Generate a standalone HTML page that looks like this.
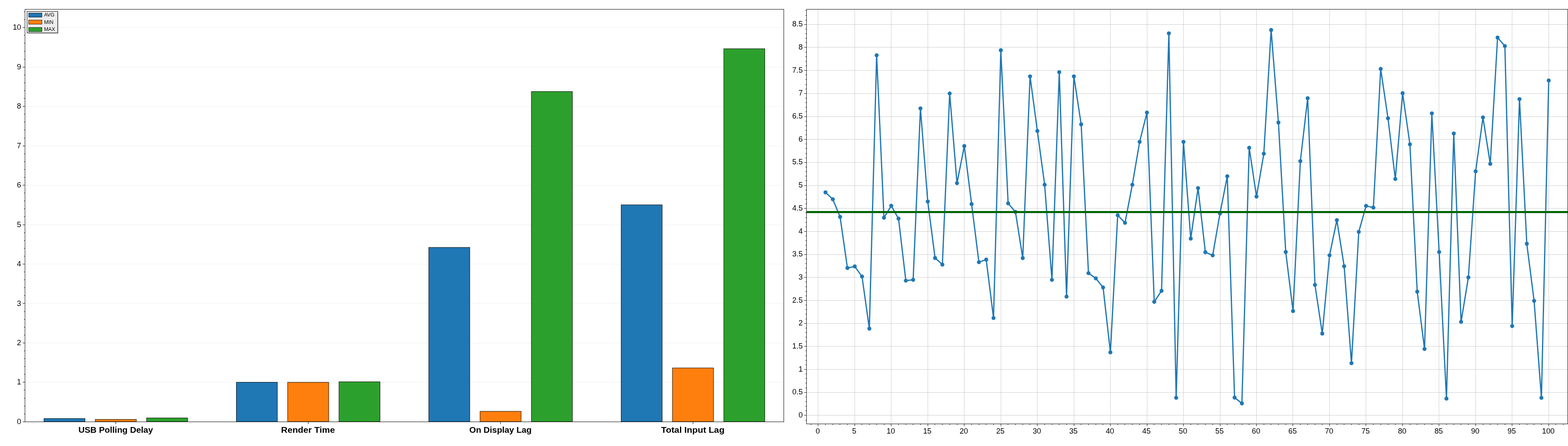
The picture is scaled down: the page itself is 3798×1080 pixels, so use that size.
<!DOCTYPE html>
<html lang="en"><head><meta charset="utf-8"><title>Input lag charts</title>
<style>
html,body{margin:0;padding:0;background:#fff;}
body{width:3798px;height:1080px;overflow:hidden;}
svg{display:block;}
text{font-family:"Liberation Sans",sans-serif;fill:#000;}
.tk{font-size:17.5px;}
.lb{font-size:20.5px;font-weight:bold;}
.lg{font-size:12px;}
.cr{shape-rendering:crispEdges;}
</style></head><body>
<svg width="3798" height="1080" viewBox="0 0 3798 1080">
<rect x="0" y="0" width="3798" height="1080" fill="#fff"/>
<g class="cr">
<rect x="62" y="925" width="1835" height="1" fill="#efefef"/>
<rect x="62" y="830" width="1835" height="1" fill="#efefef"/>
<rect x="62" y="734" width="1835" height="1" fill="#efefef"/>
<rect x="62" y="639" width="1835" height="1" fill="#efefef"/>
<rect x="62" y="544" width="1835" height="1" fill="#efefef"/>
<rect x="62" y="448" width="1835" height="1" fill="#efefef"/>
<rect x="62" y="353" width="1835" height="1" fill="#efefef"/>
<rect x="62" y="257" width="1835" height="1" fill="#efefef"/>
<rect x="62" y="162" width="1835" height="1" fill="#efefef"/>
<rect x="62" y="66" width="1835" height="1" fill="#efefef"/>
</g>
<g stroke="#000" stroke-width="1">
<rect x="106.45" y="1013.50" width="99.42" height="7.60" fill="#1f77b4"/>
<rect x="230.73" y="1015.65" width="99.42" height="5.45" fill="#ff7f0e"/>
<rect x="355.01" y="1012.00" width="99.42" height="9.10" fill="#2ca02c"/>
<rect x="572.49" y="925.65" width="99.42" height="95.45" fill="#1f77b4"/>
<rect x="696.77" y="925.75" width="99.42" height="95.35" fill="#ff7f0e"/>
<rect x="821.05" y="924.50" width="99.42" height="96.60" fill="#2ca02c"/>
<rect x="1038.53" y="599.10" width="99.42" height="422.00" fill="#1f77b4"/>
<rect x="1162.81" y="996.00" width="99.42" height="25.10" fill="#ff7f0e"/>
<rect x="1287.09" y="221.70" width="99.42" height="799.40" fill="#2ca02c"/>
<rect x="1504.57" y="496.00" width="99.42" height="525.10" fill="#1f77b4"/>
<rect x="1628.85" y="891.00" width="99.42" height="130.10" fill="#ff7f0e"/>
<rect x="1753.13" y="118.00" width="99.42" height="903.10" fill="#2ca02c"/>
</g>
<g class="cr">
<rect x="60" y="22" width="1839" height="1" fill="#000"/>
<rect x="60" y="1021" width="1839" height="1" fill="#000"/>
<rect x="60" y="22" width="1" height="1000" fill="#000"/>
<rect x="1898" y="22" width="1" height="1000" fill="#000"/>
<rect x="55" y="1021" width="5" height="1" fill="#000"/>
<rect x="58" y="1002" width="2" height="1" fill="#000"/>
<rect x="58" y="983" width="2" height="1" fill="#000"/>
<rect x="58" y="964" width="2" height="1" fill="#000"/>
<rect x="58" y="944" width="2" height="1" fill="#000"/>
<rect x="55" y="925" width="5" height="1" fill="#000"/>
<rect x="58" y="906" width="2" height="1" fill="#000"/>
<rect x="58" y="887" width="2" height="1" fill="#000"/>
<rect x="58" y="868" width="2" height="1" fill="#000"/>
<rect x="58" y="849" width="2" height="1" fill="#000"/>
<rect x="55" y="830" width="5" height="1" fill="#000"/>
<rect x="58" y="811" width="2" height="1" fill="#000"/>
<rect x="58" y="792" width="2" height="1" fill="#000"/>
<rect x="58" y="773" width="2" height="1" fill="#000"/>
<rect x="58" y="754" width="2" height="1" fill="#000"/>
<rect x="55" y="734" width="5" height="1" fill="#000"/>
<rect x="58" y="715" width="2" height="1" fill="#000"/>
<rect x="58" y="696" width="2" height="1" fill="#000"/>
<rect x="58" y="677" width="2" height="1" fill="#000"/>
<rect x="58" y="658" width="2" height="1" fill="#000"/>
<rect x="55" y="639" width="5" height="1" fill="#000"/>
<rect x="58" y="620" width="2" height="1" fill="#000"/>
<rect x="58" y="601" width="2" height="1" fill="#000"/>
<rect x="58" y="582" width="2" height="1" fill="#000"/>
<rect x="58" y="563" width="2" height="1" fill="#000"/>
<rect x="55" y="544" width="5" height="1" fill="#000"/>
<rect x="58" y="524" width="2" height="1" fill="#000"/>
<rect x="58" y="505" width="2" height="1" fill="#000"/>
<rect x="58" y="486" width="2" height="1" fill="#000"/>
<rect x="58" y="467" width="2" height="1" fill="#000"/>
<rect x="55" y="448" width="5" height="1" fill="#000"/>
<rect x="58" y="429" width="2" height="1" fill="#000"/>
<rect x="58" y="410" width="2" height="1" fill="#000"/>
<rect x="58" y="391" width="2" height="1" fill="#000"/>
<rect x="58" y="372" width="2" height="1" fill="#000"/>
<rect x="55" y="353" width="5" height="1" fill="#000"/>
<rect x="58" y="334" width="2" height="1" fill="#000"/>
<rect x="58" y="314" width="2" height="1" fill="#000"/>
<rect x="58" y="295" width="2" height="1" fill="#000"/>
<rect x="58" y="276" width="2" height="1" fill="#000"/>
<rect x="55" y="257" width="5" height="1" fill="#000"/>
<rect x="58" y="238" width="2" height="1" fill="#000"/>
<rect x="58" y="219" width="2" height="1" fill="#000"/>
<rect x="58" y="200" width="2" height="1" fill="#000"/>
<rect x="58" y="181" width="2" height="1" fill="#000"/>
<rect x="55" y="162" width="5" height="1" fill="#000"/>
<rect x="58" y="143" width="2" height="1" fill="#000"/>
<rect x="58" y="124" width="2" height="1" fill="#000"/>
<rect x="58" y="104" width="2" height="1" fill="#000"/>
<rect x="58" y="85" width="2" height="1" fill="#000"/>
<rect x="55" y="66" width="5" height="1" fill="#000"/>
<rect x="58" y="47" width="2" height="1" fill="#000"/>
<rect x="58" y="28" width="2" height="1" fill="#000"/>
<rect x="280" y="1021" width="1" height="6" fill="#000"/>
<rect x="746" y="1021" width="1" height="6" fill="#000"/>
<rect x="1212" y="1021" width="1" height="6" fill="#000"/>
<rect x="1678" y="1021" width="1" height="6" fill="#000"/>
</g>
<text class="tk" transform="translate(51.2 1026.9) scale(1.04 1)" text-anchor="end">0</text>
<text class="tk" transform="translate(51.2 931.45) scale(1.04 1)" text-anchor="end">1</text>
<text class="tk" transform="translate(51.2 836) scale(1.04 1)" text-anchor="end">2</text>
<text class="tk" transform="translate(51.2 740.55) scale(1.04 1)" text-anchor="end">3</text>
<text class="tk" transform="translate(51.2 645.1) scale(1.04 1)" text-anchor="end">4</text>
<text class="tk" transform="translate(51.2 549.65) scale(1.04 1)" text-anchor="end">5</text>
<text class="tk" transform="translate(51.2 454.2) scale(1.04 1)" text-anchor="end">6</text>
<text class="tk" transform="translate(51.2 358.75) scale(1.04 1)" text-anchor="end">7</text>
<text class="tk" transform="translate(51.2 263.3) scale(1.04 1)" text-anchor="end">8</text>
<text class="tk" transform="translate(51.2 167.85) scale(1.04 1)" text-anchor="end">9</text>
<text class="tk" transform="translate(51.2 72.4) scale(1.04 1)" text-anchor="end">10</text>
<text class="lb" x="280.2" y="1048.3" text-anchor="middle" textLength="180.6" lengthAdjust="spacingAndGlyphs">USB Polling Delay</text>
<text class="lb" x="746" y="1048.3" text-anchor="middle" textLength="130.3" lengthAdjust="spacingAndGlyphs">Render Time</text>
<text class="lb" x="1212.3" y="1048.3" text-anchor="middle" textLength="151" lengthAdjust="spacingAndGlyphs">On Display Lag</text>
<text class="lb" x="1678.1" y="1048.3" text-anchor="middle" textLength="153.6" lengthAdjust="spacingAndGlyphs">Total Input Lag</text>
<g class="cr">
<rect x="67" y="29" width="75" height="53" fill="#000" fill-opacity="0.2"/>
<rect x="65" y="27" width="75" height="53" fill="#ededed"/>
<rect x="65.5" y="27.5" width="74" height="52" fill="none" stroke="#000" stroke-width="1"/>
<rect x="69.5" y="31.5" width="32" height="10" fill="#1f77b4" stroke="#000" stroke-opacity="0.85" stroke-width="1"/>
<rect x="69.5" y="48.5" width="32" height="10" fill="#ff7f0e" stroke="#000" stroke-opacity="0.85" stroke-width="1"/>
<rect x="69.5" y="66.5" width="32" height="10" fill="#2ca02c" stroke="#000" stroke-opacity="0.85" stroke-width="1"/>
</g>
<text class="lg" transform="translate(106.7 40.2) scale(1.03 1)">AVG</text>
<text class="lg" transform="translate(106.7 57.7) scale(1.03 1)">MIN</text>
<text class="lg" transform="translate(106.7 75.2) scale(1.03 1)">MAX</text>
<g class="cr">
<rect x="1954" y="1005" width="1843" height="1" fill="#cccccc"/>
<rect x="1954" y="950" width="1843" height="1" fill="#cccccc"/>
<rect x="1954" y="894" width="1843" height="1" fill="#cccccc"/>
<rect x="1954" y="838" width="1843" height="1" fill="#cccccc"/>
<rect x="1954" y="783" width="1843" height="1" fill="#cccccc"/>
<rect x="1954" y="727" width="1843" height="1" fill="#cccccc"/>
<rect x="1954" y="671" width="1843" height="1" fill="#cccccc"/>
<rect x="1954" y="616" width="1843" height="1" fill="#cccccc"/>
<rect x="1954" y="560" width="1843" height="1" fill="#cccccc"/>
<rect x="1954" y="504" width="1843" height="1" fill="#cccccc"/>
<rect x="1954" y="449" width="1843" height="1" fill="#cccccc"/>
<rect x="1954" y="393" width="1843" height="1" fill="#cccccc"/>
<rect x="1954" y="337" width="1843" height="1" fill="#cccccc"/>
<rect x="1954" y="282" width="1843" height="1" fill="#cccccc"/>
<rect x="1954" y="226" width="1843" height="1" fill="#cccccc"/>
<rect x="1954" y="170" width="1843" height="1" fill="#cccccc"/>
<rect x="1954" y="114" width="1843" height="1" fill="#cccccc"/>
<rect x="1954" y="59" width="1843" height="1" fill="#cccccc"/>
<rect x="1981" y="23" width="1" height="1003" fill="#cccccc"/>
<rect x="2070" y="23" width="1" height="1003" fill="#cccccc"/>
<rect x="2158" y="23" width="1" height="1003" fill="#cccccc"/>
<rect x="2247" y="23" width="1" height="1003" fill="#cccccc"/>
<rect x="2335" y="23" width="1" height="1003" fill="#cccccc"/>
<rect x="2424" y="23" width="1" height="1003" fill="#cccccc"/>
<rect x="2512" y="23" width="1" height="1003" fill="#cccccc"/>
<rect x="2601" y="23" width="1" height="1003" fill="#cccccc"/>
<rect x="2689" y="23" width="1" height="1003" fill="#cccccc"/>
<rect x="2778" y="23" width="1" height="1003" fill="#cccccc"/>
<rect x="2866" y="23" width="1" height="1003" fill="#cccccc"/>
<rect x="2955" y="23" width="1" height="1003" fill="#cccccc"/>
<rect x="3043" y="23" width="1" height="1003" fill="#cccccc"/>
<rect x="3131" y="23" width="1" height="1003" fill="#cccccc"/>
<rect x="3220" y="23" width="1" height="1003" fill="#cccccc"/>
<rect x="3308" y="23" width="1" height="1003" fill="#cccccc"/>
<rect x="3397" y="23" width="1" height="1003" fill="#cccccc"/>
<rect x="3485" y="23" width="1" height="1003" fill="#cccccc"/>
<rect x="3574" y="23" width="1" height="1003" fill="#cccccc"/>
<rect x="3662" y="23" width="1" height="1003" fill="#cccccc"/>
<rect x="3751" y="23" width="1" height="1003" fill="#cccccc"/>
</g>
<polyline points="1999.5,465.8 2017.2,482.5 2034.9,525.2 2052.6,649.0 2070.3,645.2 2088.0,669.6 2105.7,795.8 2123.4,133.9 2141.1,527.2 2158.8,498.3 2176.4,529.4 2194.1,679.6 2211.8,677.6 2229.5,262.5 2247.2,488.0 2264.9,624.7 2282.6,640.7 2300.3,226.4 2318.0,443.6 2335.7,353.7 2353.4,494.2 2371.1,634.9 2388.8,628.7 2406.5,770.1 2424.2,121.7 2441.9,492.5 2459.6,513.1 2477.3,625.0 2495.0,185.0 2512.7,317.2 2530.3,447.4 2548.0,677.6 2565.7,174.8 2583.4,718.2 2601.1,185.0 2618.8,301.2 2636.5,661.5 2654.2,674.0 2671.9,696.1 2689.6,853.2 2707.3,521.1 2725.0,539.6 2742.7,447.4 2760.4,343.5 2778.1,272.6 2795.8,730.9 2813.5,704.2 2831.2,80.8 2848.9,963.2 2866.6,343.5 2884.2,577.8 2901.9,455.5 2919.6,610.7 2937.3,618.4 2955.0,517.1 2972.7,426.9 2990.4,962.8 3008.1,976.8 3025.8,357.9 3043.5,476.0 3061.2,372.2 3078.9,72.7 3096.6,296.7 3114.3,610.3 3132.0,753.2 3149.7,390.3 3167.4,237.9 3185.1,689.9 3202.8,807.8 3220.4,618.4 3238.1,533.1 3255.8,644.8 3273.5,879.5 3291.2,561.5 3308.9,498.6 3326.6,502.7 3344.3,166.9 3362.0,286.5 3379.7,433.4 3397.4,225.7 3415.1,349.6 3432.8,706.3 3450.5,845.0 3468.2,274.6 3485.9,610.3 3503.6,965.2 3521.3,323.3 3539.0,779.4 3556.7,671.8 3574.3,414.9 3592.0,284.4 3609.7,396.8 3627.4,91.0 3645.1,111.6 3662.8,789.6 3680.5,240.0 3698.2,590.2 3715.9,728.6 3733.6,963.4 3751.3,194.9" fill="none" stroke="#1f77b4" stroke-width="3" stroke-linejoin="round" stroke-linecap="round"/>
<g fill="#1f77b4">
<circle cx="1999.5" cy="465.8" r="4.85"/>
<circle cx="2017.2" cy="482.5" r="4.85"/>
<circle cx="2034.9" cy="525.2" r="4.85"/>
<circle cx="2052.6" cy="649.0" r="4.85"/>
<circle cx="2070.3" cy="645.2" r="4.85"/>
<circle cx="2088.0" cy="669.6" r="4.85"/>
<circle cx="2105.7" cy="795.8" r="4.85"/>
<circle cx="2123.4" cy="133.9" r="4.85"/>
<circle cx="2141.1" cy="527.2" r="4.85"/>
<circle cx="2158.8" cy="498.3" r="4.85"/>
<circle cx="2176.4" cy="529.4" r="4.85"/>
<circle cx="2194.1" cy="679.6" r="4.85"/>
<circle cx="2211.8" cy="677.6" r="4.85"/>
<circle cx="2229.5" cy="262.5" r="4.85"/>
<circle cx="2247.2" cy="488.0" r="4.85"/>
<circle cx="2264.9" cy="624.7" r="4.85"/>
<circle cx="2282.6" cy="640.7" r="4.85"/>
<circle cx="2300.3" cy="226.4" r="4.85"/>
<circle cx="2318.0" cy="443.6" r="4.85"/>
<circle cx="2335.7" cy="353.7" r="4.85"/>
<circle cx="2353.4" cy="494.2" r="4.85"/>
<circle cx="2371.1" cy="634.9" r="4.85"/>
<circle cx="2388.8" cy="628.7" r="4.85"/>
<circle cx="2406.5" cy="770.1" r="4.85"/>
<circle cx="2424.2" cy="121.7" r="4.85"/>
<circle cx="2441.9" cy="492.5" r="4.85"/>
<circle cx="2459.6" cy="513.1" r="4.85"/>
<circle cx="2477.3" cy="625.0" r="4.85"/>
<circle cx="2495.0" cy="185.0" r="4.85"/>
<circle cx="2512.7" cy="317.2" r="4.85"/>
<circle cx="2530.3" cy="447.4" r="4.85"/>
<circle cx="2548.0" cy="677.6" r="4.85"/>
<circle cx="2565.7" cy="174.8" r="4.85"/>
<circle cx="2583.4" cy="718.2" r="4.85"/>
<circle cx="2601.1" cy="185.0" r="4.85"/>
<circle cx="2618.8" cy="301.2" r="4.85"/>
<circle cx="2636.5" cy="661.5" r="4.85"/>
<circle cx="2654.2" cy="674.0" r="4.85"/>
<circle cx="2671.9" cy="696.1" r="4.85"/>
<circle cx="2689.6" cy="853.2" r="4.85"/>
<circle cx="2707.3" cy="521.1" r="4.85"/>
<circle cx="2725.0" cy="539.6" r="4.85"/>
<circle cx="2742.7" cy="447.4" r="4.85"/>
<circle cx="2760.4" cy="343.5" r="4.85"/>
<circle cx="2778.1" cy="272.6" r="4.85"/>
<circle cx="2795.8" cy="730.9" r="4.85"/>
<circle cx="2813.5" cy="704.2" r="4.85"/>
<circle cx="2831.2" cy="80.8" r="4.85"/>
<circle cx="2848.9" cy="963.2" r="4.85"/>
<circle cx="2866.6" cy="343.5" r="4.85"/>
<circle cx="2884.2" cy="577.8" r="4.85"/>
<circle cx="2901.9" cy="455.5" r="4.85"/>
<circle cx="2919.6" cy="610.7" r="4.85"/>
<circle cx="2937.3" cy="618.4" r="4.85"/>
<circle cx="2955.0" cy="517.1" r="4.85"/>
<circle cx="2972.7" cy="426.9" r="4.85"/>
<circle cx="2990.4" cy="962.8" r="4.85"/>
<circle cx="3008.1" cy="976.8" r="4.85"/>
<circle cx="3025.8" cy="357.9" r="4.85"/>
<circle cx="3043.5" cy="476.0" r="4.85"/>
<circle cx="3061.2" cy="372.2" r="4.85"/>
<circle cx="3078.9" cy="72.7" r="4.85"/>
<circle cx="3096.6" cy="296.7" r="4.85"/>
<circle cx="3114.3" cy="610.3" r="4.85"/>
<circle cx="3132.0" cy="753.2" r="4.85"/>
<circle cx="3149.7" cy="390.3" r="4.85"/>
<circle cx="3167.4" cy="237.9" r="4.85"/>
<circle cx="3185.1" cy="689.9" r="4.85"/>
<circle cx="3202.8" cy="807.8" r="4.85"/>
<circle cx="3220.4" cy="618.4" r="4.85"/>
<circle cx="3238.1" cy="533.1" r="4.85"/>
<circle cx="3255.8" cy="644.8" r="4.85"/>
<circle cx="3273.5" cy="879.5" r="4.85"/>
<circle cx="3291.2" cy="561.5" r="4.85"/>
<circle cx="3308.9" cy="498.6" r="4.85"/>
<circle cx="3326.6" cy="502.7" r="4.85"/>
<circle cx="3344.3" cy="166.9" r="4.85"/>
<circle cx="3362.0" cy="286.5" r="4.85"/>
<circle cx="3379.7" cy="433.4" r="4.85"/>
<circle cx="3397.4" cy="225.7" r="4.85"/>
<circle cx="3415.1" cy="349.6" r="4.85"/>
<circle cx="3432.8" cy="706.3" r="4.85"/>
<circle cx="3450.5" cy="845.0" r="4.85"/>
<circle cx="3468.2" cy="274.6" r="4.85"/>
<circle cx="3485.9" cy="610.3" r="4.85"/>
<circle cx="3503.6" cy="965.2" r="4.85"/>
<circle cx="3521.3" cy="323.3" r="4.85"/>
<circle cx="3539.0" cy="779.4" r="4.85"/>
<circle cx="3556.7" cy="671.8" r="4.85"/>
<circle cx="3574.3" cy="414.9" r="4.85"/>
<circle cx="3592.0" cy="284.4" r="4.85"/>
<circle cx="3609.7" cy="396.8" r="4.85"/>
<circle cx="3627.4" cy="91.0" r="4.85"/>
<circle cx="3645.1" cy="111.6" r="4.85"/>
<circle cx="3662.8" cy="789.6" r="4.85"/>
<circle cx="3680.5" cy="240.0" r="4.85"/>
<circle cx="3698.2" cy="590.2" r="4.85"/>
<circle cx="3715.9" cy="728.6" r="4.85"/>
<circle cx="3733.6" cy="963.4" r="4.85"/>
<circle cx="3751.3" cy="194.9" r="4.85"/>
</g>
<g class="cr">
<rect x="1954" y="511" width="1843" height="5" fill="#006400"/>
<rect x="1953" y="22" width="1845" height="1" fill="#000"/>
<rect x="1953" y="1026" width="1845" height="1" fill="#000"/>
<rect x="1953" y="22" width="1" height="1005" fill="#000"/>
<rect x="3797" y="22" width="1" height="1005" fill="#000"/>
<rect x="1951" y="1017" width="2" height="1" fill="#000"/>
<rect x="1948" y="1005" width="5" height="1" fill="#000"/>
<rect x="1951" y="994" width="2" height="1" fill="#000"/>
<rect x="1951" y="983" width="2" height="1" fill="#000"/>
<rect x="1951" y="972" width="2" height="1" fill="#000"/>
<rect x="1951" y="961" width="2" height="1" fill="#000"/>
<rect x="1948" y="950" width="5" height="1" fill="#000"/>
<rect x="1951" y="939" width="2" height="1" fill="#000"/>
<rect x="1951" y="927" width="2" height="1" fill="#000"/>
<rect x="1951" y="916" width="2" height="1" fill="#000"/>
<rect x="1951" y="905" width="2" height="1" fill="#000"/>
<rect x="1948" y="894" width="5" height="1" fill="#000"/>
<rect x="1951" y="883" width="2" height="1" fill="#000"/>
<rect x="1951" y="872" width="2" height="1" fill="#000"/>
<rect x="1951" y="861" width="2" height="1" fill="#000"/>
<rect x="1951" y="849" width="2" height="1" fill="#000"/>
<rect x="1948" y="838" width="5" height="1" fill="#000"/>
<rect x="1951" y="827" width="2" height="1" fill="#000"/>
<rect x="1951" y="816" width="2" height="1" fill="#000"/>
<rect x="1951" y="805" width="2" height="1" fill="#000"/>
<rect x="1951" y="794" width="2" height="1" fill="#000"/>
<rect x="1948" y="783" width="5" height="1" fill="#000"/>
<rect x="1951" y="772" width="2" height="1" fill="#000"/>
<rect x="1951" y="760" width="2" height="1" fill="#000"/>
<rect x="1951" y="749" width="2" height="1" fill="#000"/>
<rect x="1951" y="738" width="2" height="1" fill="#000"/>
<rect x="1948" y="727" width="5" height="1" fill="#000"/>
<rect x="1951" y="716" width="2" height="1" fill="#000"/>
<rect x="1951" y="705" width="2" height="1" fill="#000"/>
<rect x="1951" y="694" width="2" height="1" fill="#000"/>
<rect x="1951" y="682" width="2" height="1" fill="#000"/>
<rect x="1948" y="671" width="5" height="1" fill="#000"/>
<rect x="1951" y="660" width="2" height="1" fill="#000"/>
<rect x="1951" y="649" width="2" height="1" fill="#000"/>
<rect x="1951" y="638" width="2" height="1" fill="#000"/>
<rect x="1951" y="627" width="2" height="1" fill="#000"/>
<rect x="1948" y="616" width="5" height="1" fill="#000"/>
<rect x="1951" y="604" width="2" height="1" fill="#000"/>
<rect x="1951" y="593" width="2" height="1" fill="#000"/>
<rect x="1951" y="582" width="2" height="1" fill="#000"/>
<rect x="1951" y="571" width="2" height="1" fill="#000"/>
<rect x="1948" y="560" width="5" height="1" fill="#000"/>
<rect x="1951" y="549" width="2" height="1" fill="#000"/>
<rect x="1951" y="538" width="2" height="1" fill="#000"/>
<rect x="1951" y="527" width="2" height="1" fill="#000"/>
<rect x="1951" y="515" width="2" height="1" fill="#000"/>
<rect x="1948" y="504" width="5" height="1" fill="#000"/>
<rect x="1951" y="493" width="2" height="1" fill="#000"/>
<rect x="1951" y="482" width="2" height="1" fill="#000"/>
<rect x="1951" y="471" width="2" height="1" fill="#000"/>
<rect x="1951" y="460" width="2" height="1" fill="#000"/>
<rect x="1948" y="449" width="5" height="1" fill="#000"/>
<rect x="1951" y="437" width="2" height="1" fill="#000"/>
<rect x="1951" y="426" width="2" height="1" fill="#000"/>
<rect x="1951" y="415" width="2" height="1" fill="#000"/>
<rect x="1951" y="404" width="2" height="1" fill="#000"/>
<rect x="1948" y="393" width="5" height="1" fill="#000"/>
<rect x="1951" y="382" width="2" height="1" fill="#000"/>
<rect x="1951" y="371" width="2" height="1" fill="#000"/>
<rect x="1951" y="359" width="2" height="1" fill="#000"/>
<rect x="1951" y="348" width="2" height="1" fill="#000"/>
<rect x="1948" y="337" width="5" height="1" fill="#000"/>
<rect x="1951" y="326" width="2" height="1" fill="#000"/>
<rect x="1951" y="315" width="2" height="1" fill="#000"/>
<rect x="1951" y="304" width="2" height="1" fill="#000"/>
<rect x="1951" y="293" width="2" height="1" fill="#000"/>
<rect x="1948" y="282" width="5" height="1" fill="#000"/>
<rect x="1951" y="270" width="2" height="1" fill="#000"/>
<rect x="1951" y="259" width="2" height="1" fill="#000"/>
<rect x="1951" y="248" width="2" height="1" fill="#000"/>
<rect x="1951" y="237" width="2" height="1" fill="#000"/>
<rect x="1948" y="226" width="5" height="1" fill="#000"/>
<rect x="1951" y="215" width="2" height="1" fill="#000"/>
<rect x="1951" y="204" width="2" height="1" fill="#000"/>
<rect x="1951" y="192" width="2" height="1" fill="#000"/>
<rect x="1951" y="181" width="2" height="1" fill="#000"/>
<rect x="1948" y="170" width="5" height="1" fill="#000"/>
<rect x="1951" y="159" width="2" height="1" fill="#000"/>
<rect x="1951" y="148" width="2" height="1" fill="#000"/>
<rect x="1951" y="137" width="2" height="1" fill="#000"/>
<rect x="1951" y="126" width="2" height="1" fill="#000"/>
<rect x="1948" y="114" width="5" height="1" fill="#000"/>
<rect x="1951" y="103" width="2" height="1" fill="#000"/>
<rect x="1951" y="92" width="2" height="1" fill="#000"/>
<rect x="1951" y="81" width="2" height="1" fill="#000"/>
<rect x="1951" y="70" width="2" height="1" fill="#000"/>
<rect x="1948" y="59" width="5" height="1" fill="#000"/>
<rect x="1951" y="48" width="2" height="1" fill="#000"/>
<rect x="1951" y="37" width="2" height="1" fill="#000"/>
<rect x="1951" y="25" width="2" height="1" fill="#000"/>
<rect x="1964" y="1026" width="1" height="3" fill="#000"/>
<rect x="1981" y="1026" width="1" height="6" fill="#000"/>
<rect x="1999" y="1026" width="1" height="3" fill="#000"/>
<rect x="2017" y="1026" width="1" height="3" fill="#000"/>
<rect x="2034" y="1026" width="1" height="3" fill="#000"/>
<rect x="2052" y="1026" width="1" height="3" fill="#000"/>
<rect x="2070" y="1026" width="1" height="6" fill="#000"/>
<rect x="2087" y="1026" width="1" height="3" fill="#000"/>
<rect x="2105" y="1026" width="1" height="3" fill="#000"/>
<rect x="2123" y="1026" width="1" height="3" fill="#000"/>
<rect x="2141" y="1026" width="1" height="3" fill="#000"/>
<rect x="2158" y="1026" width="1" height="6" fill="#000"/>
<rect x="2176" y="1026" width="1" height="3" fill="#000"/>
<rect x="2194" y="1026" width="1" height="3" fill="#000"/>
<rect x="2211" y="1026" width="1" height="3" fill="#000"/>
<rect x="2229" y="1026" width="1" height="3" fill="#000"/>
<rect x="2247" y="1026" width="1" height="6" fill="#000"/>
<rect x="2264" y="1026" width="1" height="3" fill="#000"/>
<rect x="2282" y="1026" width="1" height="3" fill="#000"/>
<rect x="2300" y="1026" width="1" height="3" fill="#000"/>
<rect x="2318" y="1026" width="1" height="3" fill="#000"/>
<rect x="2335" y="1026" width="1" height="6" fill="#000"/>
<rect x="2353" y="1026" width="1" height="3" fill="#000"/>
<rect x="2371" y="1026" width="1" height="3" fill="#000"/>
<rect x="2388" y="1026" width="1" height="3" fill="#000"/>
<rect x="2406" y="1026" width="1" height="3" fill="#000"/>
<rect x="2424" y="1026" width="1" height="6" fill="#000"/>
<rect x="2441" y="1026" width="1" height="3" fill="#000"/>
<rect x="2459" y="1026" width="1" height="3" fill="#000"/>
<rect x="2477" y="1026" width="1" height="3" fill="#000"/>
<rect x="2494" y="1026" width="1" height="3" fill="#000"/>
<rect x="2512" y="1026" width="1" height="6" fill="#000"/>
<rect x="2530" y="1026" width="1" height="3" fill="#000"/>
<rect x="2548" y="1026" width="1" height="3" fill="#000"/>
<rect x="2565" y="1026" width="1" height="3" fill="#000"/>
<rect x="2583" y="1026" width="1" height="3" fill="#000"/>
<rect x="2601" y="1026" width="1" height="6" fill="#000"/>
<rect x="2618" y="1026" width="1" height="3" fill="#000"/>
<rect x="2636" y="1026" width="1" height="3" fill="#000"/>
<rect x="2654" y="1026" width="1" height="3" fill="#000"/>
<rect x="2671" y="1026" width="1" height="3" fill="#000"/>
<rect x="2689" y="1026" width="1" height="6" fill="#000"/>
<rect x="2707" y="1026" width="1" height="3" fill="#000"/>
<rect x="2724" y="1026" width="1" height="3" fill="#000"/>
<rect x="2742" y="1026" width="1" height="3" fill="#000"/>
<rect x="2760" y="1026" width="1" height="3" fill="#000"/>
<rect x="2778" y="1026" width="1" height="6" fill="#000"/>
<rect x="2795" y="1026" width="1" height="3" fill="#000"/>
<rect x="2813" y="1026" width="1" height="3" fill="#000"/>
<rect x="2831" y="1026" width="1" height="3" fill="#000"/>
<rect x="2848" y="1026" width="1" height="3" fill="#000"/>
<rect x="2866" y="1026" width="1" height="6" fill="#000"/>
<rect x="2884" y="1026" width="1" height="3" fill="#000"/>
<rect x="2901" y="1026" width="1" height="3" fill="#000"/>
<rect x="2919" y="1026" width="1" height="3" fill="#000"/>
<rect x="2937" y="1026" width="1" height="3" fill="#000"/>
<rect x="2955" y="1026" width="1" height="6" fill="#000"/>
<rect x="2972" y="1026" width="1" height="3" fill="#000"/>
<rect x="2990" y="1026" width="1" height="3" fill="#000"/>
<rect x="3008" y="1026" width="1" height="3" fill="#000"/>
<rect x="3025" y="1026" width="1" height="3" fill="#000"/>
<rect x="3043" y="1026" width="1" height="6" fill="#000"/>
<rect x="3061" y="1026" width="1" height="3" fill="#000"/>
<rect x="3078" y="1026" width="1" height="3" fill="#000"/>
<rect x="3096" y="1026" width="1" height="3" fill="#000"/>
<rect x="3114" y="1026" width="1" height="3" fill="#000"/>
<rect x="3131" y="1026" width="1" height="6" fill="#000"/>
<rect x="3149" y="1026" width="1" height="3" fill="#000"/>
<rect x="3167" y="1026" width="1" height="3" fill="#000"/>
<rect x="3185" y="1026" width="1" height="3" fill="#000"/>
<rect x="3202" y="1026" width="1" height="3" fill="#000"/>
<rect x="3220" y="1026" width="1" height="6" fill="#000"/>
<rect x="3238" y="1026" width="1" height="3" fill="#000"/>
<rect x="3255" y="1026" width="1" height="3" fill="#000"/>
<rect x="3273" y="1026" width="1" height="3" fill="#000"/>
<rect x="3291" y="1026" width="1" height="3" fill="#000"/>
<rect x="3308" y="1026" width="1" height="6" fill="#000"/>
<rect x="3326" y="1026" width="1" height="3" fill="#000"/>
<rect x="3344" y="1026" width="1" height="3" fill="#000"/>
<rect x="3362" y="1026" width="1" height="3" fill="#000"/>
<rect x="3379" y="1026" width="1" height="3" fill="#000"/>
<rect x="3397" y="1026" width="1" height="6" fill="#000"/>
<rect x="3415" y="1026" width="1" height="3" fill="#000"/>
<rect x="3432" y="1026" width="1" height="3" fill="#000"/>
<rect x="3450" y="1026" width="1" height="3" fill="#000"/>
<rect x="3468" y="1026" width="1" height="3" fill="#000"/>
<rect x="3485" y="1026" width="1" height="6" fill="#000"/>
<rect x="3503" y="1026" width="1" height="3" fill="#000"/>
<rect x="3521" y="1026" width="1" height="3" fill="#000"/>
<rect x="3538" y="1026" width="1" height="3" fill="#000"/>
<rect x="3556" y="1026" width="1" height="3" fill="#000"/>
<rect x="3574" y="1026" width="1" height="6" fill="#000"/>
<rect x="3592" y="1026" width="1" height="3" fill="#000"/>
<rect x="3609" y="1026" width="1" height="3" fill="#000"/>
<rect x="3627" y="1026" width="1" height="3" fill="#000"/>
<rect x="3645" y="1026" width="1" height="3" fill="#000"/>
<rect x="3662" y="1026" width="1" height="6" fill="#000"/>
<rect x="3680" y="1026" width="1" height="3" fill="#000"/>
<rect x="3698" y="1026" width="1" height="3" fill="#000"/>
<rect x="3715" y="1026" width="1" height="3" fill="#000"/>
<rect x="3733" y="1026" width="1" height="3" fill="#000"/>
<rect x="3751" y="1026" width="1" height="6" fill="#000"/>
<rect x="3768" y="1026" width="1" height="3" fill="#000"/>
<rect x="3786" y="1026" width="1" height="3" fill="#000"/>
</g>
<text class="tk" transform="translate(1944.3 1010.97) scale(1.04 1)" text-anchor="end">0</text>
<text class="tk" transform="translate(1944.3 955.29) scale(1.04 1)" text-anchor="end">0.5</text>
<text class="tk" transform="translate(1944.3 899.61) scale(1.04 1)" text-anchor="end">1</text>
<text class="tk" transform="translate(1944.3 843.93) scale(1.04 1)" text-anchor="end">1.5</text>
<text class="tk" transform="translate(1944.3 788.25) scale(1.04 1)" text-anchor="end">2</text>
<text class="tk" transform="translate(1944.3 732.57) scale(1.04 1)" text-anchor="end">2.5</text>
<text class="tk" transform="translate(1944.3 676.89) scale(1.04 1)" text-anchor="end">3</text>
<text class="tk" transform="translate(1944.3 621.21) scale(1.04 1)" text-anchor="end">3.5</text>
<text class="tk" transform="translate(1944.3 565.53) scale(1.04 1)" text-anchor="end">4</text>
<text class="tk" transform="translate(1944.3 509.85) scale(1.04 1)" text-anchor="end">4.5</text>
<text class="tk" transform="translate(1944.3 454.17) scale(1.04 1)" text-anchor="end">5</text>
<text class="tk" transform="translate(1944.3 398.49) scale(1.04 1)" text-anchor="end">5.5</text>
<text class="tk" transform="translate(1944.3 342.81) scale(1.04 1)" text-anchor="end">6</text>
<text class="tk" transform="translate(1944.3 287.13) scale(1.04 1)" text-anchor="end">6.5</text>
<text class="tk" transform="translate(1944.3 231.45) scale(1.04 1)" text-anchor="end">7</text>
<text class="tk" transform="translate(1944.3 175.77) scale(1.04 1)" text-anchor="end">7.5</text>
<text class="tk" transform="translate(1944.3 120.09) scale(1.04 1)" text-anchor="end">8</text>
<text class="tk" transform="translate(1944.3 64.41) scale(1.04 1)" text-anchor="end">8.5</text>
<text class="tk" transform="translate(1980.7 1050) scale(1.04 1)" text-anchor="middle">0</text>
<text class="tk" transform="translate(2069.18 1050) scale(1.04 1)" text-anchor="middle">5</text>
<text class="tk" transform="translate(2157.65 1050) scale(1.04 1)" text-anchor="middle">10</text>
<text class="tk" transform="translate(2246.12 1050) scale(1.04 1)" text-anchor="middle">15</text>
<text class="tk" transform="translate(2334.6 1050) scale(1.04 1)" text-anchor="middle">20</text>
<text class="tk" transform="translate(2423.08 1050) scale(1.04 1)" text-anchor="middle">25</text>
<text class="tk" transform="translate(2511.55 1050) scale(1.04 1)" text-anchor="middle">30</text>
<text class="tk" transform="translate(2600.03 1050) scale(1.04 1)" text-anchor="middle">35</text>
<text class="tk" transform="translate(2688.5 1050) scale(1.04 1)" text-anchor="middle">40</text>
<text class="tk" transform="translate(2776.97 1050) scale(1.04 1)" text-anchor="middle">45</text>
<text class="tk" transform="translate(2865.45 1050) scale(1.04 1)" text-anchor="middle">50</text>
<text class="tk" transform="translate(2953.92 1050) scale(1.04 1)" text-anchor="middle">55</text>
<text class="tk" transform="translate(3042.4 1050) scale(1.04 1)" text-anchor="middle">60</text>
<text class="tk" transform="translate(3130.88 1050) scale(1.04 1)" text-anchor="middle">65</text>
<text class="tk" transform="translate(3219.35 1050) scale(1.04 1)" text-anchor="middle">70</text>
<text class="tk" transform="translate(3307.83 1050) scale(1.04 1)" text-anchor="middle">75</text>
<text class="tk" transform="translate(3396.3 1050) scale(1.04 1)" text-anchor="middle">80</text>
<text class="tk" transform="translate(3484.78 1050) scale(1.04 1)" text-anchor="middle">85</text>
<text class="tk" transform="translate(3573.25 1050) scale(1.04 1)" text-anchor="middle">90</text>
<text class="tk" transform="translate(3661.72 1050) scale(1.04 1)" text-anchor="middle">95</text>
<text class="tk" transform="translate(3750.2 1050) scale(1.04 1)" text-anchor="middle">100</text>
</svg>
</body></html>
